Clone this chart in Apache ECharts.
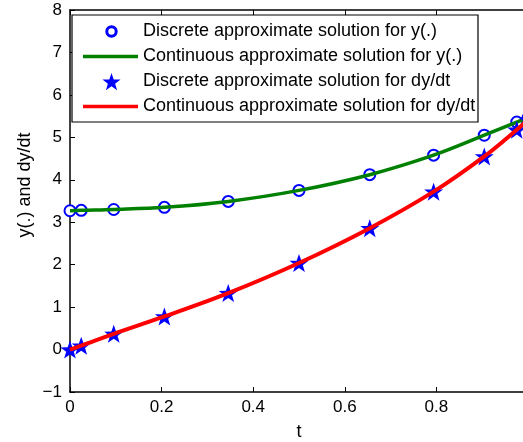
<!DOCTYPE html>
<html>
<head>
<meta charset="utf-8">
<script src="https://cdn.jsdelivr.net/npm/echarts@6/dist/echarts.min.js"></script>
<style>
html,body{margin:0;padding:0;background:#fff;}
#chart{width:523px;height:442px;}
</style>
</head>
<body>
<div id="chart"></div>
<script>
// Collocation points (t)
var tValues = [0, 0.0245, 0.0955, 0.2061, 0.3455, 0.5, 0.6545, 0.7939, 0.9045, 0.9755, 1];
// Discrete approximate solution for y(.)
var yDiscrete = [3.27, 3.28, 3.30, 3.35, 3.49, 3.75, 4.12, 4.58, 5.05, 5.36, 5.46];
// Discrete approximate solution for dy/dt
var dyDiscrete = [0, 0.09, 0.37, 0.78, 1.33, 2.04, 2.86, 3.72, 4.55, 5.18, 5.42];
// Continuous approximations (same nodes, drawn smoothly)
var yContinuous = yDiscrete.slice();
var dyContinuous = dyDiscrete.slice();
var seriesNames = [
  'Discrete approximate solution for y(.)',
  'Continuous approximate solution for y(.)',
  'Discrete approximate solution for dy/dt',
  'Continuous approximate solution for dy/dt'
];
var xAxisTitle = 't';
var yAxisTitle = 'y(.) and dy/dt';

function pairs(xs, ys){ return xs.map(function(x,i){ return [x, ys[i]]; }); }
function starPoints(cx, cy, R, r){
  var pts = [];
  for (var k = 0; k < 10; k++) {
    var rad = (k % 2 === 0) ? R : r;
    var a = -Math.PI/2 + k*Math.PI/5;
    pts.push([cx + rad*Math.cos(a), cy + rad*Math.sin(a)]);
  }
  return pts;
}

var FONT = '"Liberation Sans", Arial, Helvetica, sans-serif';
var STAR = 'path://M0,-10L2.35,-3.24L9.51,-3.09L3.8,1.24L5.88,8.09L0,4L-5.88,8.09L-3.8,1.24L-9.51,-3.09L-2.35,-3.24Z';
var BLUE = '#0000ff', GREEN = '#008000', RED = '#ff0000';

// legend drawn as graphic (box + symbols + real text)
var LX = 72, LY = 15, LW = 406, LH = 107;
var rowY = [31.5, 56.5, 81.5, 106.5];
var legendGraphic = [
  {type:'rect', shape:{x:LX, y:LY, width:LW, height:LH}, style:{fill:'#fff', stroke:'#000', lineWidth:1.2}, z:100},
  {type:'circle', shape:{cx:111.5, cy:rowY[0], r:4.7}, style:{fill:'#fff', stroke:BLUE, lineWidth:3}, z:101},
  {type:'line', shape:{x1:83, y1:rowY[1], x2:138, y2:rowY[1]}, style:{stroke:GREEN, lineWidth:3.5}, z:101},
  {type:'polygon', shape:{points:starPoints(111.5, rowY[2]+1, 9.5, 3.8)}, style:{fill:BLUE}, z:101},
  {type:'line', shape:{x1:83, y1:rowY[3], x2:138, y2:rowY[3]}, style:{stroke:RED, lineWidth:3.5}, z:101}
];
seriesNames.forEach(function(n, i){
  legendGraphic.push({type:'text', x:143, y:rowY[i], z:101,
    style:{text:n, font:'18px ' + FONT, fill:'#000', verticalAlign:'middle', textAlign:'left'}});
});
legendGraphic.push({type:'text', x:25, y:185, rotation:Math.PI/2, z:101,
  style:{text:yAxisTitle, font:'18px ' + FONT, fill:'#000', verticalAlign:'middle', textAlign:'center'}});

var chart = echarts.init(document.getElementById('chart'), null, {renderer:'canvas'});
chart.setOption({
  animation: false,
  backgroundColor: '#fff',
  textStyle: {fontFamily: FONT},
  grid: {left: 70, top: 10, width: 458, height: 382, containLabel: false, outerBoundsMode: 'none'},
  graphic: legendGraphic,
  xAxis: [{
    type: 'value', min: 0, max: 1, interval: 0.2,
    position: 'bottom',
    name: xAxisTitle, nameLocation: 'middle', nameGap: 31,
    nameTextStyle: {fontFamily: FONT, fontSize: 18, color: '#000'},
    axisLine: {onZero: false, lineStyle: {color: '#000', width: 1.5}},
    axisTick: {inside: true, length: 5, lineStyle: {color: '#000'}},
    axisLabel: {fontFamily: FONT, fontSize: 17, color: '#000', margin: 7,
      formatter: function(v){ return v === 1 ? '' : String(v); }},
    splitLine: {show: false}
  }, {
    type: 'value', min: 0, max: 1, interval: 0.2,
    position: 'top',
    axisLine: {onZero: false, lineStyle: {color: '#000', width: 1.5}},
    axisTick: {inside: true, length: 5, lineStyle: {color: '#000'}},
    axisLabel: {show: false},
    splitLine: {show: false}
  }],
  yAxis: [{
    type: 'value', min: -1, max: 8, interval: 1,
    axisLine: {show: true, onZero: false, lineStyle: {color: '#000', width: 1.5}},
    axisTick: {show: true, inside: true, length: 5, lineStyle: {color: '#000'}},
    axisLabel: {fontFamily: FONT, fontSize: 17, color: '#000', margin: 8,
      formatter: function(v){ return String(v).replace('-', '\u2212'); }},
    splitLine: {show: false}
  }],
  series: [{
    name: seriesNames[0], type: 'scatter',
    data: pairs(tValues, yDiscrete),
    symbol: 'emptyCircle', symbolSize: 11,
    itemStyle: {color: BLUE, borderColor: BLUE, borderWidth: 3, opacity: 1},
    z: 2
  }, {
    name: seriesNames[1], type: 'line',
    data: pairs(tValues, yContinuous),
    smooth: 0.35, symbol: 'none', showSymbol: false,
    lineStyle: {color: GREEN, width: 3.5},
    itemStyle: {color: GREEN},
    z: 3
  }, {
    name: seriesNames[2], type: 'scatter',
    data: pairs(tValues, dyDiscrete),
    symbol: STAR, symbolSize: [19, 18],
    itemStyle: {color: BLUE, opacity: 1},
    z: 4
  }, {
    name: seriesNames[3], type: 'line',
    data: pairs(tValues, dyContinuous),
    smooth: 0.35, symbol: 'none', showSymbol: false,
    lineStyle: {color: RED, width: 4},
    itemStyle: {color: RED},
    z: 5
  }]
});
</script>
</body>
</html>
